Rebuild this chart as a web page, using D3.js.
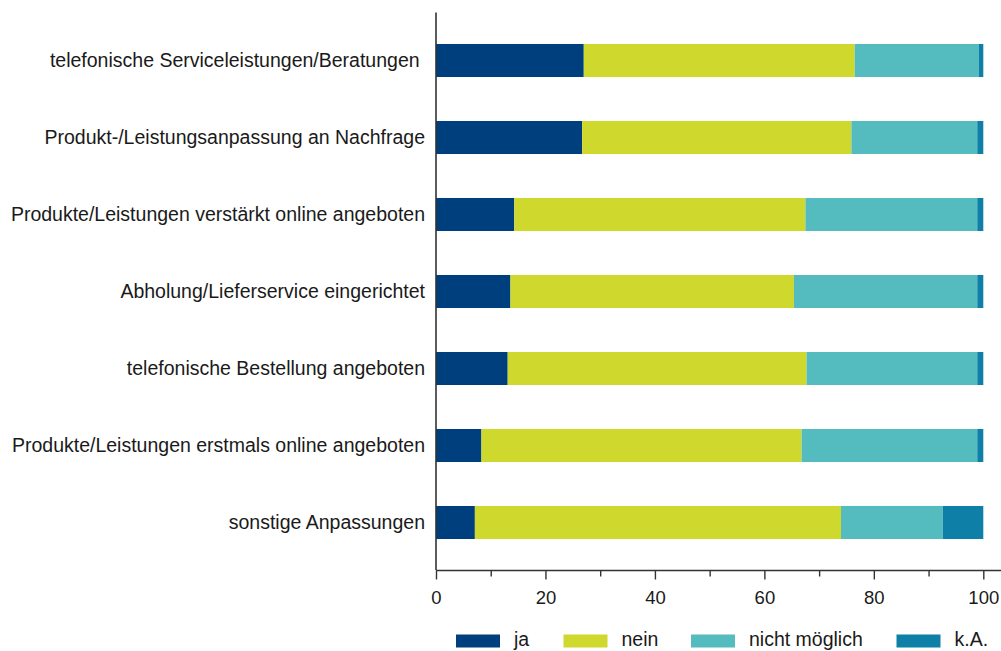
<!DOCTYPE html>
<html>
<head>
<meta charset="utf-8">
<script src="https://cdn.jsdelivr.net/npm/d3@7"></script>
<style>
  body { margin: 0; background: #fff; }
  svg { display: block; font-family: "Liberation Sans", Arial, sans-serif; }
  text { white-space: pre; }
</style>
</head>
<body>
<div class="chart"></div>
<script>
(() => {
  const categories = [
    "telefonische Serviceleistungen/Beratungen ",
    "Produkt-/Leistungsanpassung an Nachfrage",
    "Produkte/Leistungen verstärkt online angeboten",
    "Abholung/Lieferservice eingerichtet",
    "telefonische Bestellung angeboten",
    "Produkte/Leistungen erstmals online angeboten",
    "sonstige Anpassungen",
  ];
  const seriesNames = ["ja", "nein", "nicht möglich", "k.A."];
  const ja = [27.0, 26.7, 14.3, 13.6, 13.1, 8.3, 7.1];
  const nein = [49.5, 49.2, 53.2, 51.8, 54.6, 58.5, 66.9];
  const nichtMoeglich = [22.7, 23.0, 31.4, 33.5, 31.2, 32.1, 18.6];
  const kA = [0.8, 1.1, 1.1, 1.1, 1.1, 1.1, 7.4];
  const xTicks = [0, 20, 40, 60, 80, 100];
  const xMinorTicks = [10, 30, 50, 70, 90];

  const colors = ["#003f7d", "#cfd82d", "#54bcbf", "#0e7fa6"];

  const width = 1001,
    height = 651;

  // rows built from the arrays above
  const rows = categories.map((c, i) => ({
    cat: c,
    "ja": ja[i],
    "nein": nein[i],
    "nicht möglich": nichtMoeglich[i],
    "k.A.": kA[i],
  }));

  const stacked = d3.stack().keys(seriesNames)(rows);

  const x = d3.scaleLinear().domain([0, 100]).range([436, 983.3]);
  const y = d3
    .scaleBand()
    .domain(categories)
    .range([22, 561])
    .paddingInner(0.571)
    .paddingOuter(0.2855);

  const color = d3.scaleOrdinal().domain(seriesNames).range(colors);

  const svg = d3
    .select(".chart")
    .append("svg")
    .attr("width", width)
    .attr("height", height);

  // bars
  svg
    .append("g")
    .attr("class", "bars")
    .selectAll("g")
    .data(stacked)
    .enter()
    .append("g")
    .attr("fill", (d) => color(d.key))
    .selectAll("rect")
    .data((d) => d)
    .enter()
    .append("rect")
    .attr("x", (d) => x(d[0]))
    .attr("width", (d) => x(d[1]) - x(d[0]))
    .attr("y", (d) => y(d.data.cat))
    .attr("height", y.bandwidth());

  // category labels
  svg
    .append("g")
    .attr("class", "labels")
    .selectAll("text")
    .data(categories)
    .enter()
    .append("text")
    .attr("x", 425)
    .attr("y", (d) => y(d) + y.bandwidth() / 2)
    .attr("dy", "0.35em")
    .attr("text-anchor", "end")
    .style("font-size", "19.5px")
    .style("fill", "#1a1a1a")
    .text((d) => d);

  // y axis line
  svg
    .append("line")
    .attr("x1", x(0))
    .attr("x2", x(0))
    .attr("y1", 12.5)
    .attr("y2", 570)
    .style("stroke", "#333")
    .style("stroke-width", 1.6);

  // x axis
  const axisY = 570.5;
  const xAxis = svg.append("g").attr("transform", `translate(0,${axisY})`);
  xAxis
    .append("line")
    .attr("x1", x(0))
    .attr("x2", width)
    .style("stroke", "#333")
    .style("stroke-width", 1.6);

  xAxis
    .append("g")
    .call(
      d3.axisBottom(x).tickValues(xMinorTicks).tickSize(6).tickFormat("")
    )
    .call((g) => g.select(".domain").remove())
    .call((g) => g.selectAll("line").style("stroke", "#333").style("stroke-width", 1.4));

  xAxis
    .append("g")
    .call(d3.axisBottom(x).tickValues(xTicks).tickSize(9).tickPadding(11))
    .call((g) => g.select(".domain").remove())
    .call((g) => g.selectAll("line").style("stroke", "#333").style("stroke-width", 1.4))
    .call((g) =>
      g
        .selectAll("text")
        .style("font-size", "18.5px")
        .style("font-family", '"Liberation Sans", Arial, sans-serif')
        .style("fill", "#1a1a1a")
    );

  // legend
  const legendX = [456, 563.5, 691, 896.5];
  const legend = svg
    .append("g")
    .attr("class", "legend")
    .selectAll("g")
    .data(seriesNames)
    .enter()
    .append("g")
    .attr("transform", (d, i) => `translate(${legendX[i]},634.5)`);

  legend
    .append("rect")
    .attr("width", 44)
    .attr("height", 13)
    .attr("fill", (d) => color(d));

  legend
    .append("text")
    .attr("x", 58)
    .attr("y", 11.5)
    .style("font-size", "19.5px")
    .style("fill", "#1a1a1a")
    .text((d) => d);
})();
</script>
</body>
</html>
